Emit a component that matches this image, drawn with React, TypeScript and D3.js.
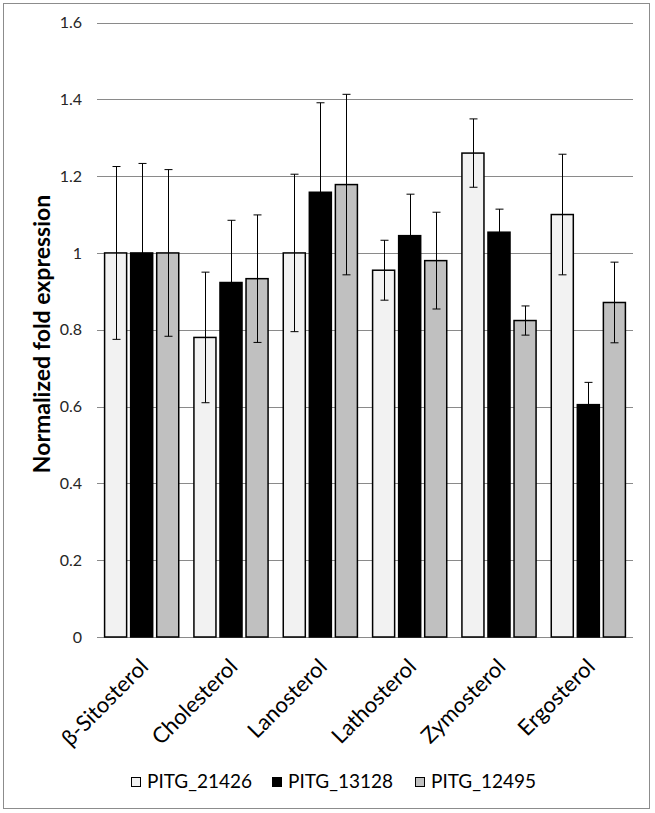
import React from "react";
import * as d3 from "d3";

const categories = ["β-Sitosterol", "Cholesterol", "Lanosterol", "Lathosterol", "Zymosterol", "Ergosterol"];
const seriesNames = ["PITG_21426", "PITG_13128", "PITG_12495"];
const values21426 = [1.0, 0.78, 1.0, 0.955, 1.26, 1.1];
const errors21426 = [0.225, 0.17, 0.205, 0.078, 0.089, 0.157];
const values13128 = [1.0, 0.923, 1.158, 1.045, 1.054, 0.605];
const errors13128 = [0.233, 0.162, 0.233, 0.108, 0.06, 0.058];
const values12495 = [1.0, 0.933, 1.178, 0.98, 0.824, 0.871];
const errors12495 = [0.217, 0.166, 0.235, 0.126, 0.038, 0.105];
const yTicks = [0, 0.2, 0.4, 0.6, 0.8, 1, 1.2, 1.4, 1.6];
const yTitle = "Normalized fold expression";

const seriesValues = [values21426, values13128, values12495];
const seriesErrors = [errors21426, errors13128, errors12495];
const seriesFill = ["#f2f2f2", "#000000", "#c0c0c0"];

const W = 655;
const H = 813;
const FONT = "Lato, 'Open Sans', sans-serif";

export default function App() {
  const x0 = d3.scaleBand<string>().domain(categories).range([97, 633]).paddingInner(0.17).paddingOuter(0.085);
  const x1 = d3.scaleBand<string>().domain(seriesNames).range([0, x0.bandwidth()]).paddingInner(0.154).paddingOuter(0);
  const y = d3.scaleLinear().domain([0, 1.6]).range([637, 22.5]);
  const legendX = [131, 272, 415];
  const labelY = 668;

  return (
    <div style={{ position: "absolute", left: 0, top: 0 }}>
      <svg width={W} height={H} style={{ display: "block", background: "#fff" }}>
        <rect x={3.5} y={3.5} width={646} height={805} fill="#fff" stroke="#8c8c8c" strokeWidth={1} />
        {yTicks.map((t) => (
          <g key={t}>
            <line x1={97} x2={633} y1={Math.round(y(t)) + 0.5} y2={Math.round(y(t)) + 0.5} stroke="#8a8a8a" strokeWidth={1} />
            <text x={82} y={y(t)} dy="0.35em" textAnchor="end" fontFamily={FONT} fontSize={16} fill="#262626">
              {d3.format("")(t)}
            </text>
          </g>
        ))}
        {seriesNames.map((s, si) => (
          <g key={s}>
            {categories.map((c, ci) => {
              const v = seriesValues[si][ci];
              const bx = (x0(c) as number) + (x1(s) as number);
              const bw = x1.bandwidth();
              return (
                <rect key={c} x={bx} y={y(v)} width={bw} height={y(0) - y(v)} fill={seriesFill[si]} stroke="#000" strokeWidth={1.5} />
              );
            })}
          </g>
        ))}
        {seriesNames.map((s, si) => (
          <g key={s + "e"}>
            {categories.map((c, ci) => {
              const v = seriesValues[si][ci];
              const e = seriesErrors[si][ci];
              const cx = Math.round((x0(c) as number) + (x1(s) as number) + x1.bandwidth() / 2) + 0.5;
              const cap = 4;
              return (
                <g key={c} stroke="#000" strokeWidth={1}>
                  <line x1={cx} x2={cx} y1={y(v + e)} y2={y(v - e)} />
                  <line x1={cx - cap} x2={cx + cap} y1={y(v + e)} y2={y(v + e)} />
                  <line x1={cx - cap} x2={cx + cap} y1={y(v - e)} y2={y(v - e)} />
                </g>
              );
            })}
          </g>
        ))}
        {categories.map((c) => {
          const cx = (x0(c) as number) + x0.bandwidth() / 2 + 8;
          return (
            <text
              key={c}
              transform={`translate(${cx.toFixed(2)},${labelY}) rotate(-45)`}
              textAnchor="end"
              fontFamily={FONT}
              fontSize={22}
              fill="#000"
            >
              {c}
            </text>
          );
        })}
        <text transform="translate(50,334) rotate(-90)" textAnchor="middle" fontFamily={FONT} fontSize={23} fontWeight="bold" fill="#000">
          {yTitle}
        </text>
        {seriesNames.map((s, si) => (
          <g key={s + "l"}>
            <rect x={legendX[si] + 0.5} y={777.5} width={9} height={9} fill={seriesFill[si]} stroke="#000" strokeWidth={1} />
            <text x={legendX[si] + 16} y={788} fontFamily={FONT} fontSize={19} fill="#000">
              {s}
            </text>
          </g>
        ))}
      </svg>
    </div>
  );
}
